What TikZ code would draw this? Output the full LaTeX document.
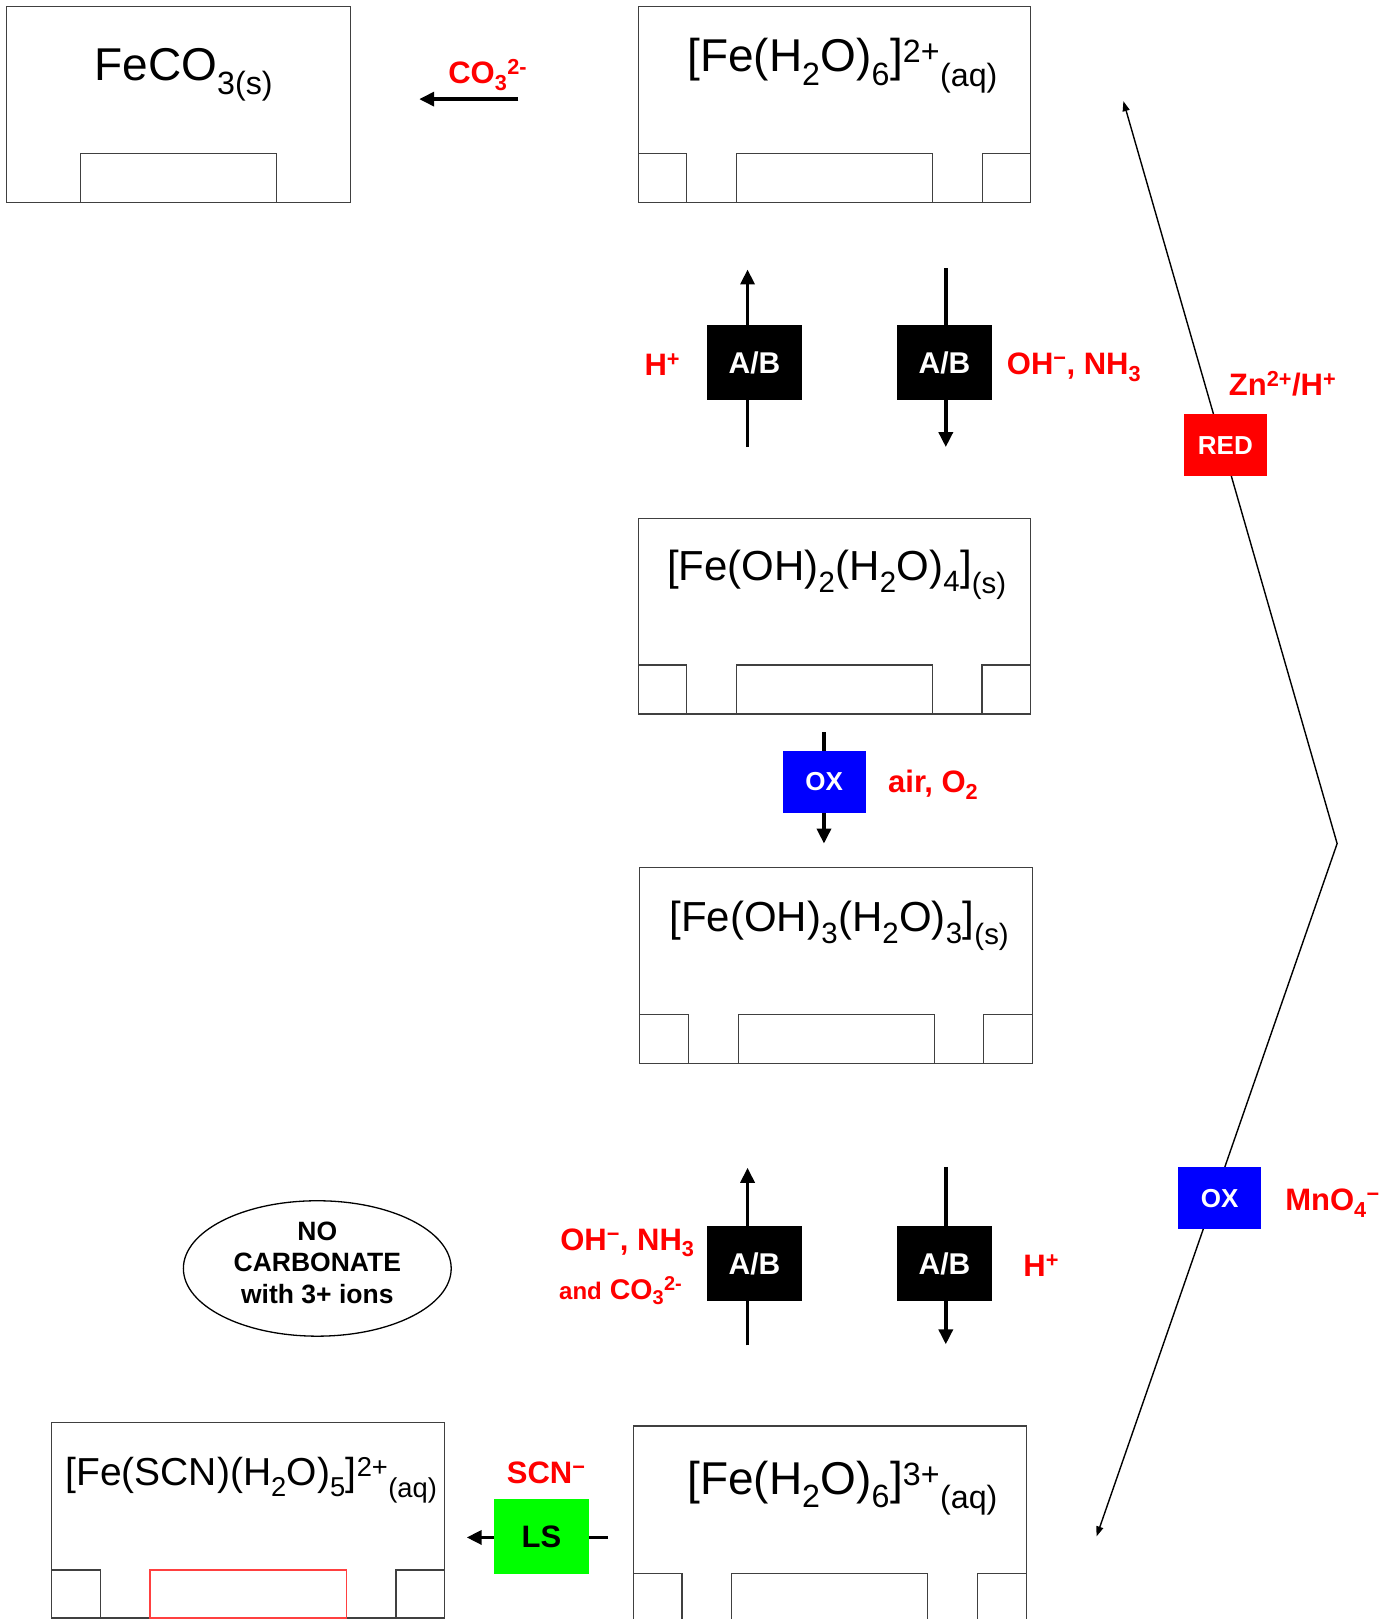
\documentclass[tikz,border=0pt]{standalone}
\usepackage{fontspec}
\setmainfont{Liberation Sans}
\usetikzlibrary{arrows.meta,fit,shapes.geometric}
\definecolor{rd}{HTML}{FF0000}
\definecolor{bl}{HTML}{0000FF}
\definecolor{gr}{HTML}{00FF00}
\definecolor{bx}{HTML}{404040}
\definecolor{rl}{HTML}{FF4040}
\newcommand\fs[1]{\fontsize{#1}{#1}\selectfont}
\newcommand\Sb[1]{\textsubscript{#1}}
\newcommand\Sp[1]{\textsuperscript{#1}}
\begin{document}
\begin{tikzpicture}[x=1.0325pt,y=-1.0325pt,
  cbox/.style={draw=bx,line width=1.2pt,inner sep=0pt},
  cline/.style={draw=bx,line width=1.2pt},
  chem/.style={anchor=base,inner sep=0pt,text=black},
  abbox/.style={fill=black,inner sep=0pt},
  oxbox/.style={fill=bl,inner sep=0pt},
  redbox/.style={fill=rd,inner sep=0pt},
  lsbox/.style={fill=gr,inner sep=0pt},
  abtxt/.style={anchor=base,inner sep=0pt,text=white,font=\bfseries\fs{30}},
  oxtxt/.style={anchor=base,inner sep=0pt,text=white,font=\bfseries\fs{26}},
  lstxt/.style={anchor=base,inner sep=0pt,text=black,font=\bfseries\fs{31}},
  lbl/.style={anchor=base west,inner sep=0pt,text=rd,font=\bfseries\fs{31}},
  thickarr/.style={line width=3.5pt,-{Triangle[length=15pt,width=14pt]}},
  thinarr/.style={line width=1.4pt,{Triangle[length=10pt,width=7pt]}-{Triangle[length=10pt,width=7pt]}}
]
\useasboundingbox (0,0) rectangle (1354,1568);

% ---- connectors (drawn first, boxes on top) ----
\coordinate (co3s) at (502,96);   \coordinate (co3e) at (406,96);
\coordinate (ab1b) at (724,433);  \coordinate (ab1t) at (724,261);
\coordinate (ab2t) at (916,260);  \coordinate (ab2b) at (916,433);
\coordinate (oxt)  at (798,709);  \coordinate (oxb)  at (798,817);
\coordinate (ab3b) at (724,1303); \coordinate (ab3t) at (724,1131);
\coordinate (ab4t) at (916,1130); \coordinate (ab4b) at (916,1302);
\coordinate (lsr)  at (589,1489); \coordinate (lsl)  at (452,1489);
\coordinate (ptop) at (1088,98);  \coordinate (papx) at (1295,817);
\coordinate (pbot) at (1062,1488);

\draw[thickarr] (co3s) -- (co3e);
\draw[thickarr] (ab1b) -- (ab1t);
\draw[thickarr] (ab2t) -- (ab2b);
\draw[thickarr] (oxt) -- (oxb);
\draw[thickarr] (ab3b) -- (ab3t);
\draw[thickarr] (ab4t) -- (ab4b);
\draw[thickarr] (lsr) -- (lsl);
\draw[thinarr] (ptop) -- (papx) -- (pbot);

% ---- compound boxes ----
\node[cbox,fit={(6,6)(339.4,196)}] (feco3) {};
\draw[cline] (77.8,148.8) rectangle (268,196);
\node[chem,font=\fs{46}] (tfeco3) at (178,77.5) {FeCO\Sb{3(s)}};

\node[cbox,fit={(618,6)(998,196)}] (fe2) {};
\draw[cline] (618,148.8) rectangle (665,196);
\draw[cline] (713,148.8) rectangle (903.3,196);
\draw[cline] (951.4,148.8) rectangle (998,196);
\node[chem,font=\fs{46}] (tfe2) at (816,69.5) {[Fe(H\Sb{2}O)\Sb{6}]\Sp{2+}\Sb{(aq)}};

\node[cbox,fit={(618,502)(998,691.5)}] (feoh2) {};
\draw[cline] (618,644) rectangle (665,691.5);
\draw[cline] (713,644) rectangle (903,691.5);
\draw[cline] (951,644) rectangle (998,691.5);
\node[chem,font=\fs{42}] (tfeoh2) at (810.5,562) {[Fe(OH)\Sb{2}(H\Sb{2}O)\Sb{4}]\Sb{(s)}};

\node[cbox,fit={(619.5,840)(1000.2,1029.8)}] (feoh3) {};
\draw[cline] (619.5,982.7) rectangle (666.6,1029.8);
\draw[cline] (715,982.7) rectangle (905,1029.8);
\draw[cline] (952.7,982.7) rectangle (1000.2,1029.8);
\node[chem,font=\fs{42}] (tfeoh3) at (813,902) {[Fe(OH)\Sb{3}(H\Sb{2}O)\Sb{3}]\Sb{(s)}};

\node[cbox,fit={(49.7,1378)(430.6,1567)}] (fescn) {};
\draw[cline] (49.7,1520.6) rectangle (97.3,1567);
\draw[draw=rl,line width=1.2pt] (145.3,1520.6) rectangle (335.5,1567);
\draw[cline] (383.5,1520.6) rectangle (430.6,1567);
\node[chem,font=\fs{39}] (tfescn) at (243.5,1439) {[Fe(SCN)(H\Sb{2}O)\Sb{5}]\Sp{2+}\Sb{(aq)}};

\node[cbox,fit={(613.6,1381)(994.2,1571)}] (fe3) {};
\draw[cline] (613.6,1523.8) rectangle (660.5,1571);
\draw[cline] (708.8,1523.8) rectangle (898.5,1571);
\draw[cline] (946.8,1523.8) rectangle (994.2,1571);
\node[chem,font=\fs{46}] (tfe3) at (816,1447) {[Fe(H\Sb{2}O)\Sb{6}]\Sp{3+}\Sb{(aq)}};

% ---- reaction boxes ----
\node[abbox,fit={(685,315)(776.4,387)}] (ab1) {};
\node[abtxt] (tab1) at (730.7,361.4) {A/B};
\node[abbox,fit={(869,315)(960.5,387)}] (ab2) {};
\node[abtxt] (tab2) at (914.75,361.4) {A/B};
\node[oxbox,fit={(758,727)(838.5,787)}] (ox1) {};
\node[oxtxt] (tox1) at (798.25,766) {OX};
\node[abbox,fit={(685,1187.4)(776.4,1259.7)}] (ab3) {};
\node[abtxt] (tab3) at (730.7,1234) {A/B};
\node[abbox,fit={(869,1187.4)(960.5,1259.7)}] (ab4) {};
\node[abtxt] (tab4) at (914.75,1234) {A/B};
\node[lsbox,fit={(478.6,1451.8)(570.3,1524.2)}] (ls) {};
\node[lstxt] (tls) at (524.45,1498.7) {LS};
\node[redbox,fit={(1146.7,401)(1226.8,460.7)}] (red) {};
\node[oxtxt] (tred) at (1186.75,439.9) {RED};
\node[oxbox,fit={(1141,1130.6)(1221.3,1190)}] (ox2) {};
\node[oxtxt] (tox2) at (1181.15,1169.3) {OX};

% ---- ellipse ----
\node[draw=black,line width=1.3pt,ellipse,minimum width=267.8pt,minimum height=135.4pt,inner sep=0pt] (noc) at (307.3,1228.5) {};
\node[align=center,inner sep=0pt,font=\bfseries\fontsize{26.5}{31.7}\selectfont] (noctext) at (307.3,1223) {NO\\CARBONATE\\with 3+ ions};

% ---- labels ----
\node[lbl] (lco3) at (434,81) {CO\Sb{3}\Sp{2-}};
\node[lbl] (lh1) at (624,364) {H\Sp{+}};
\node[lbl] (loh1) at (975,363) {OH\Sp{−}, NH\Sb{3}};
\node[lbl] (lair) at (860,768) {air, O\Sb{2}};
\node[lbl] (lzn) at (1190,382.6) {Zn\Sp{2+}/H\Sp{+}};
\node[lbl] (lmn) at (1244.6,1172.6) {MnO\Sb{4}\Sp{−}};
\node[lbl] (loh2) at (542.4,1211) {OH\Sp{−}, NH\Sb{3}};
\node[lbl,font=\bfseries\fs{28.5}] (land) at (541.4,1258.4) {{\fs{24}and} CO\Sb{3}\Sp{2-}};
\node[lbl] (lh2) at (991,1236.5) {H\Sp{+}};
\node[lbl] (lscn) at (490.7,1436.6) {SCN\Sp{−}};
\end{tikzpicture}
\end{document}
